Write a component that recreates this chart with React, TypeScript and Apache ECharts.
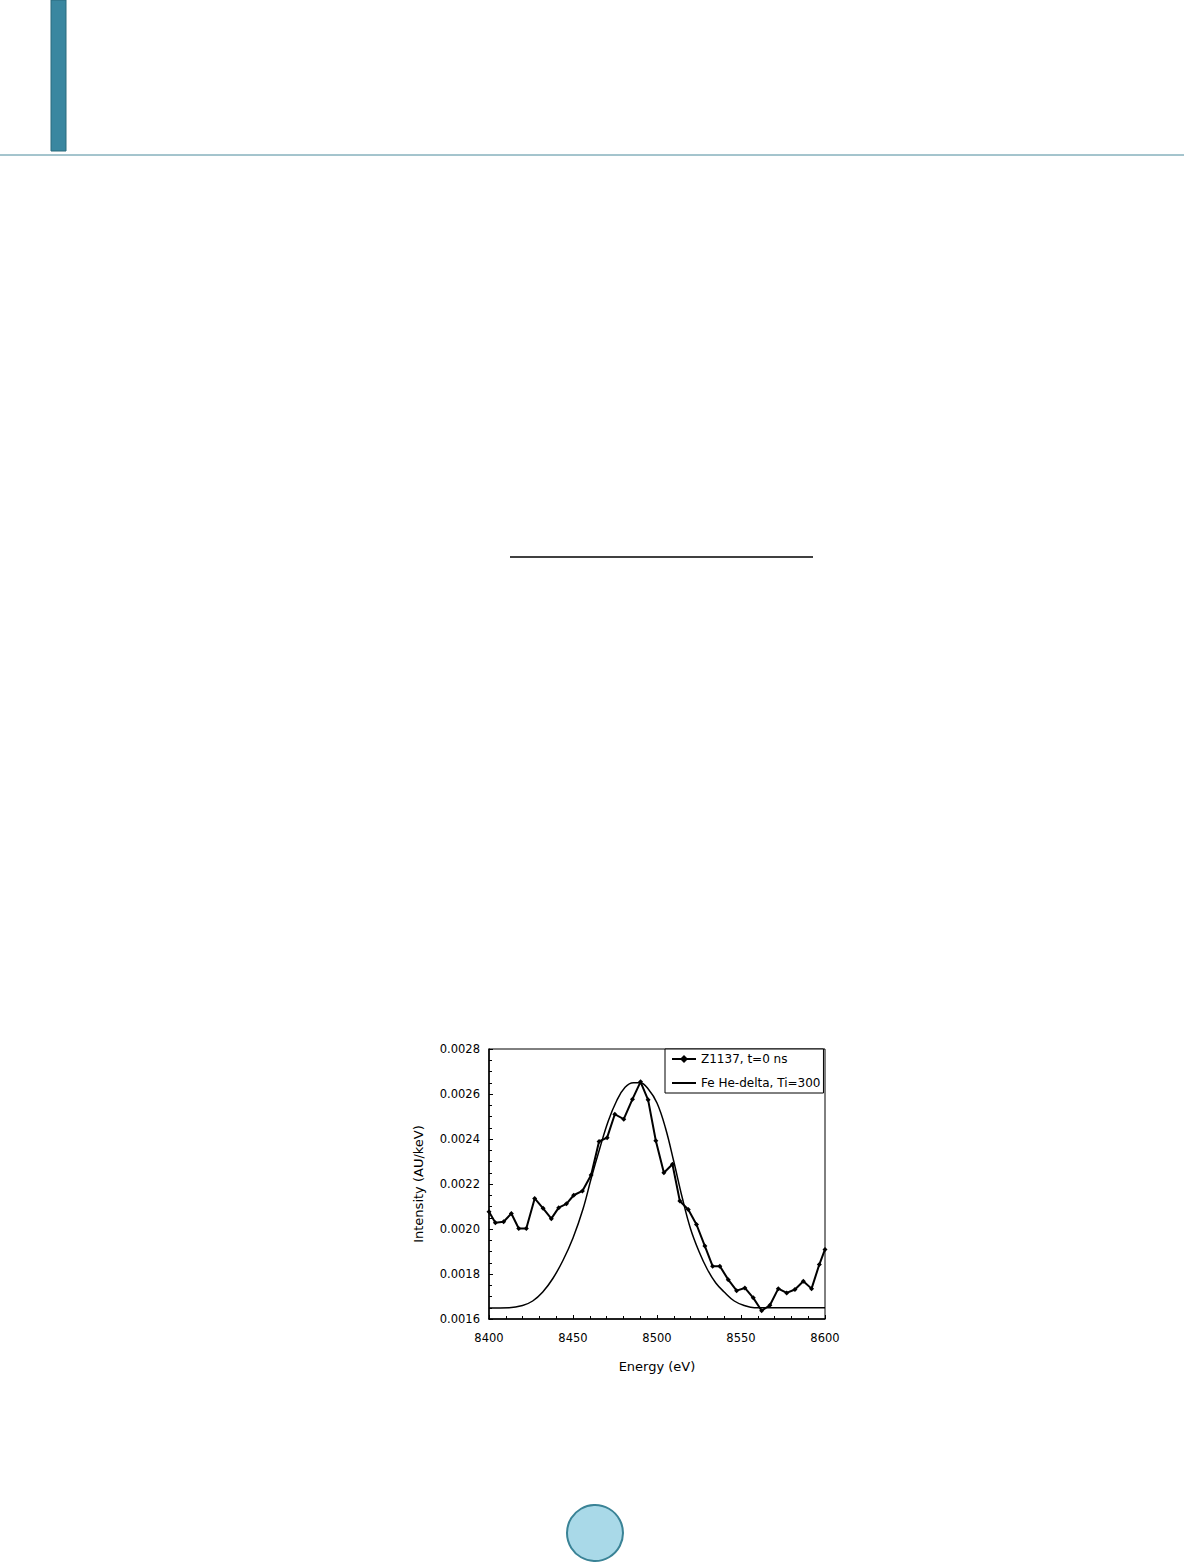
import React, { useEffect, useRef } from "react";
import * as echarts from "echarts";

const xTicks = [8400, 8450, 8500, 8550, 8600];
const yTicks = [0.0016, 0.0018, 0.002, 0.0022, 0.0024, 0.0026, 0.0028];

const z1137Energy = [
  8400, 8403.8, 8408.7, 8413.3, 8417.7, 8422.2, 8427.2, 8432.2, 8437.1, 8441.5,
  8446.1, 8450.4, 8455.6, 8460.8, 8465.5, 8470.3, 8474.9, 8480.2, 8485.4, 8490.2,
  8494.7, 8499.3, 8504.1, 8509.2, 8513.6, 8518.6, 8523.5, 8528.5, 8533.1, 8537.4,
  8542.4, 8547.4, 8552.3, 8557.3, 8562.3, 8567.2, 8572.2, 8577.2, 8582.1, 8587.1,
  8592.0, 8596.6, 8600,
];
const z1137Intensity = [
  0.002077, 0.002028, 0.002032, 0.002069, 0.002002, 0.002002, 0.002136, 0.002092, 0.002046, 0.002095,
  0.002112, 0.00215, 0.002169, 0.00224, 0.002389, 0.002406, 0.00251, 0.002488, 0.002577, 0.002654,
  0.002574, 0.002392, 0.00225, 0.002288, 0.002124, 0.002087, 0.00202, 0.001924, 0.001835, 0.001835,
  0.001775, 0.001726, 0.001738, 0.001694, 0.001637, 0.001661, 0.001735, 0.001716, 0.001731, 0.001768,
  0.001735, 0.001842, 0.001909,
];

const feEnergy = [
  8400, 8412, 8420, 8426, 8432, 8438, 8444, 8450, 8456, 8461,
  8466, 8471, 8476, 8481, 8486, 8490, 8495, 8500, 8505, 8510,
  8515, 8520, 8525, 8530, 8535, 8540, 8546, 8552, 8558, 8600,
];
const feIntensity = [
  0.001649, 0.00165, 0.00166, 0.00168, 0.00172, 0.00178, 0.00186, 0.00196, 0.00209, 0.00223,
  0.00236, 0.00248, 0.00257, 0.00263, 0.00265, 0.00265, 0.00262, 0.00256, 0.00245, 0.0023,
  0.00214, 0.002, 0.0019, 0.00182, 0.00176, 0.00172, 0.00168, 0.00166, 0.00165, 0.00165,
];

const seriesNames = ["Z1137, t=0 ns", "Fe He-delta, Ti=300"];
const xTitle = "Energy (eV)";
const yTitle = "Intensity (AU/keV)";

export default function App() {
  const ref = useRef<HTMLDivElement>(null);
  useEffect(() => {
    if (!ref.current) return;
    const chart = echarts.init(ref.current, null, { renderer: "svg" });
    const font = "DejaVu Sans";
    chart.setOption({
      animation: false,
      backgroundColor: "#ffffff",
      grid: {
        left: 489,
        top: 1049,
        width: 336,
        height: 270,
        show: true,
        borderColor: "#000",
        borderWidth: 1,
      },
      legend: {
        left: 665,
        top: 1049,
        orient: "vertical",
        backgroundColor: "#fff",
        borderColor: "#000",
        borderWidth: 1,
        borderRadius: 0,
        padding: [4, 3, 4, 6],
        itemGap: 12,
        itemWidth: 24,
        itemHeight: 10,
        textStyle: { fontFamily: font, fontSize: 12, color: "#000" },
        data: [
          { name: seriesNames[0] },
          { name: seriesNames[1], itemStyle: { opacity: 0 } },
        ],
      },
      xAxis: {
        type: "value",
        min: xTicks[0],
        max: xTicks[xTicks.length - 1],
        interval: 50,
        name: xTitle,
        nameLocation: "middle",
        nameGap: 41,
        nameTextStyle: { fontFamily: font, fontSize: 13, color: "#000" },
        axisLine: { show: true, lineStyle: { color: "#000", width: 1.5 } },
        axisTick: { show: true, inside: true, length: 4, lineStyle: { color: "#000" } },
        minorTick: { show: true, splitNumber: 5, length: 3, lineStyle: { color: "#000" } },
        axisLabel: {
          fontFamily: font,
          fontSize: 11.5,
          color: "#000",
          margin: 13,
          formatter: (v: number) => String(Math.round(v)),
        },
        splitLine: { show: false },
      },
      yAxis: {
        type: "value",
        min: yTicks[0],
        max: yTicks[yTicks.length - 1],
        interval: 0.0002,
        name: yTitle,
        nameLocation: "middle",
        nameGap: 64,
        nameTextStyle: { fontFamily: font, fontSize: 13, color: "#000" },
        axisLine: { show: true, lineStyle: { color: "#000", width: 1.5 } },
        axisTick: { show: true, inside: true, length: 4, lineStyle: { color: "#000" } },
        minorTick: { show: true, splitNumber: 4, length: 3, lineStyle: { color: "#000" } },
        axisLabel: {
          fontFamily: font,
          fontSize: 11.5,
          color: "#000",
          margin: 9,
          formatter: (v: number) => v.toFixed(4),
        },
        splitLine: { show: false },
      },
      series: [
        {
          name: seriesNames[0],
          type: "line",
          data: z1137Energy.map((x, i) => [x, z1137Intensity[i]]),
          symbol: "diamond",
          symbolSize: 5,
          lineStyle: { color: "#000", width: 2 },
          itemStyle: { color: "#000" },
          z: 3,
        },
        {
          name: seriesNames[1],
          type: "line",
          data: feEnergy.map((x, i) => [x, feIntensity[i]]),
          smooth: 0.4,
          symbol: "none",
          showSymbol: false,
          lineStyle: { color: "#000", width: 1.5 },
          itemStyle: { color: "#000" },
          z: 2,
        },
      ],
      graphic: [
        {
          type: "rect",
          shape: { x: 51, y: 0, width: 15, height: 151 },
          style: { fill: "#3a87a0", stroke: "#2b6a7d", lineWidth: 1 },
        },
        {
          type: "line",
          shape: { x1: 0, y1: 155, x2: 1184, y2: 155 },
          style: { stroke: "#4a8a9c", lineWidth: 1 },
        },
        {
          type: "line",
          shape: { x1: 510, y1: 557, x2: 813, y2: 557 },
          style: { stroke: "#000", lineWidth: 1.5 },
        },
        {
          type: "circle",
          shape: { cx: 595, cy: 1533, r: 28 },
          style: { fill: "#a9d9e8", stroke: "#3a8396", lineWidth: 2 },
        },
      ],
    });
    return () => chart.dispose();
  }, []);
  return (
    <div
      ref={ref}
      style={{ position: "absolute", left: 0, top: 0, width: 1184, height: 1564 }}
    />
  );
}
